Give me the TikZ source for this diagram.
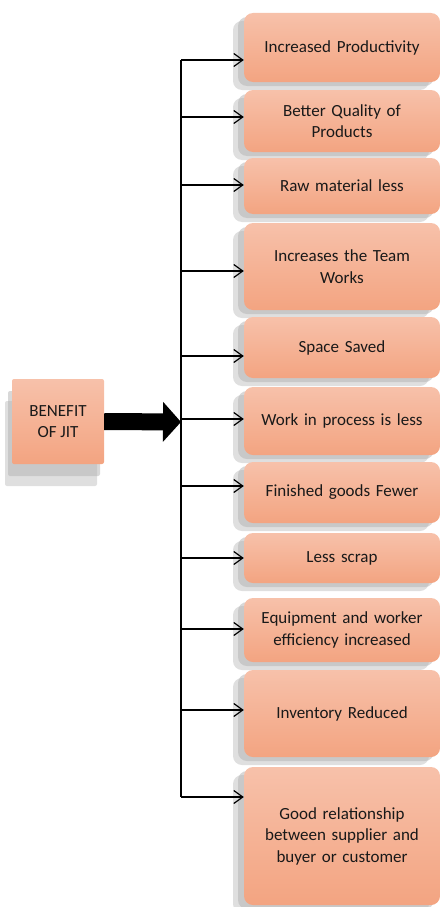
\documentclass[tikz,border=0pt]{standalone}
\usepackage{fontspec}
\setmainfont{Carlito}
\usetikzlibrary{arrows.meta,shadows}
\definecolor{salmontop}{RGB}{247,193,170}
\definecolor{salmonbot}{RGB}{243,164,129}
\definecolor{textdark}{RGB}{25,25,25}
\tikzset{
  gain/.style={rounded corners=9pt, top color=salmontop, bottom color=salmonbot,
    minimum width=196pt, minimum height=#1, text width=180pt, align=center, text=textdark,
    drop shadow={shadow xshift=-11pt,shadow yshift=-8pt,fill=black!25},
    drop shadow={shadow xshift=-6pt,shadow yshift=-4pt,fill=black!30}},
  jitbox/.style={rounded corners=2pt, top color=salmontop, bottom color=salmonbot,
    minimum width=92pt, minimum height=85pt, align=center, text=textdark,
    drop shadow={shadow xshift=-7pt,shadow yshift=-22pt,fill=black!25},
    drop shadow={shadow xshift=-4pt,shadow yshift=-12pt,fill=black!30}},
  arr/.style={-{Straight Barb[length=9pt,width=13pt]}, line width=1.2pt},
}

\begin{document}
\begin{tikzpicture}[x=1pt,y=-1pt,font=\fontsize{17}{21.5}\selectfont]
        \useasboundingbox (0,0) rectangle (441,907);

        \node[jitbox] (jit) at (58,421.5) {BENEFIT\\OF JIT};

        \node[gain=69pt] (p1) at (342,47.5) {Increased Productivity};
        \node[gain=62pt] (p2) at (342,121) {Better Quality of\\Products};
        \node[gain=56pt] (p3) at (342,186) {Raw material less};
        \node[gain=87pt] (p4) at (342,266.5) {Increases the Team\\Works};
        \node[gain=61pt] (p5) at (342,347.5) {Space Saved};
        \node[gain=68pt] (p6) at (342,421) {Work in process is less};
        \node[gain=61pt] (p7) at (342,492.5) {Finished goods Fewer};
        \node[gain=50pt] (p8) at (342,558) {Less scrap};
        \node[gain=64pt] (p9) at (342,630) {Equipment and worker\\efficiency increased};
        \node[gain=87pt] (p10) at (342,713.5) {Inventory Reduced};
        \node[gain=138pt] (p11) at (342,836) {Good relationship\\between supplier and\\buyer or customer};

        %points on the vertical line
        \coordinate (hub) at (181,422);
        \coordinate (c1) at (181,60);
        \coordinate (c2) at (181,117);
        \coordinate (c3) at (181,185);
        \coordinate (c4) at (181,271);
        \coordinate (c5) at (181,356);
        \coordinate (c6) at (181,419);
        \coordinate (c7) at (181,486);
        \coordinate (c8) at (181,558);
        \coordinate (c9) at (181,629);
        \coordinate (c10) at (181,710);
        \coordinate (c11) at (181,797);

        %big arrow and line
        \draw[line width=17pt, -{Triangle[length=18pt,width=39pt]}] (jit.east) -- (hub);
        \draw[line width=1.2pt] (c1) -- (c11);

        %arrows to the boxes
        \draw[arr] (c1) -- (c1 -| p1.west);
        \draw[arr] (c2) -- (c2 -| p2.west);
        \draw[arr] (c3) -- (c3 -| p3.west);
        \draw[arr] (c4) -- (c4 -| p4.west);
        \draw[arr] (c5) -- (c5 -| p5.west);
        \draw[arr] (c6) -- (c6 -| p6.west);
        \draw[arr] (c7) -- (c7 -| p7.west);
        \draw[arr] (c8) -- (c8 -| p8.west);
        \draw[arr] (c9) -- (c9 -| p9.west);
        \draw[arr] (c10) -- (c10 -| p10.west);
        \draw[arr] (c11) -- (c11 -| p11.west);
\end{tikzpicture}
\end{document}
